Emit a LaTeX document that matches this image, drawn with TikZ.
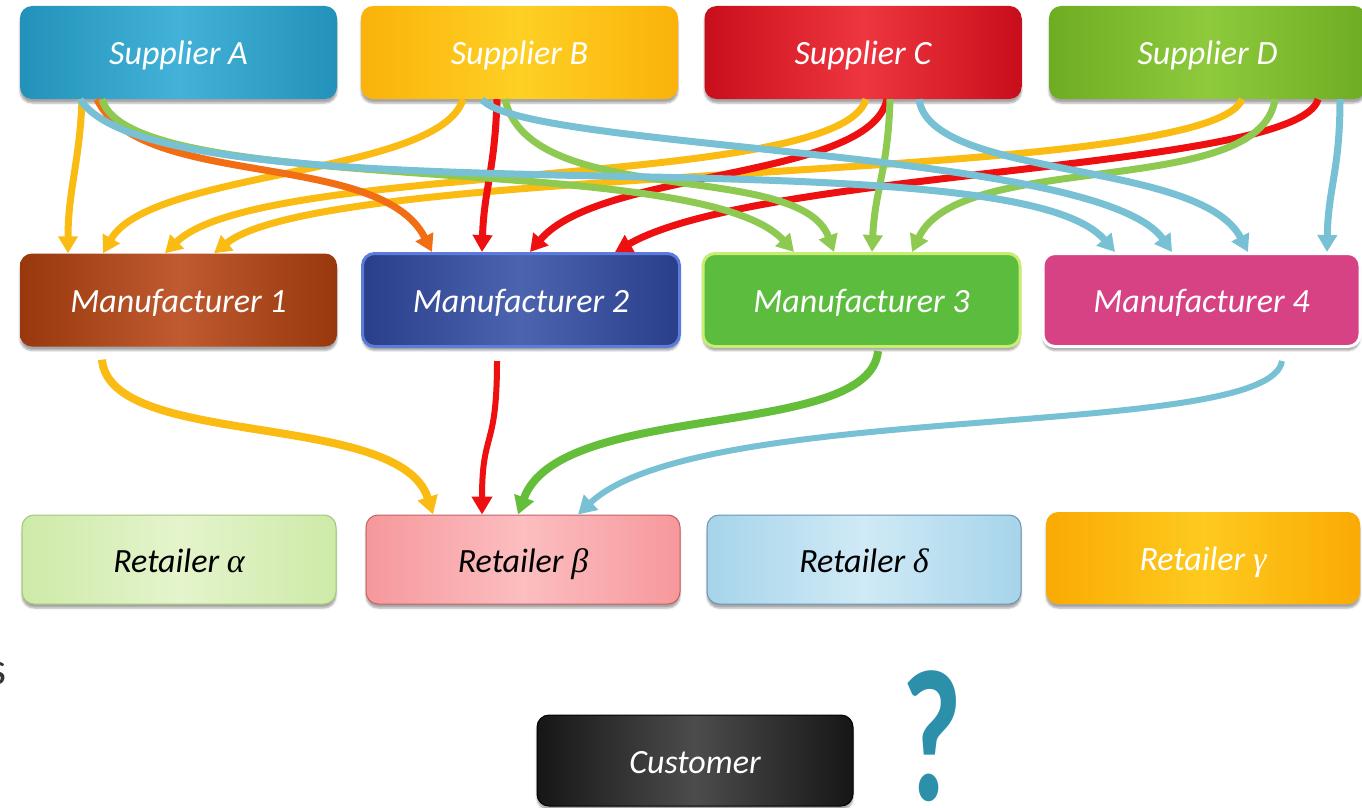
\documentclass[tikz,border=0pt]{standalone}
\usepackage{fontspec}
\setmainfont{Carlito}
\newfontfamily\greekfont{Liberation Serif}
\usetikzlibrary{arrows.meta,shadows.blur}

% box fills
\definecolor{supA}{RGB}{34,146,186}
\definecolor{supAm}{RGB}{66,178,216}
\definecolor{supB}{RGB}{251,178,10}
\definecolor{supBm}{RGB}{254,208,36}
\definecolor{supC}{RGB}{200,14,26}
\definecolor{supCm}{RGB}{238,54,64}
\definecolor{supD}{RGB}{110,172,34}
\definecolor{supDm}{RGB}{142,202,60}
\definecolor{manA}{RGB}{152,56,12}
\definecolor{manAm}{RGB}{192,90,48}
\definecolor{manB}{RGB}{42,62,138}
\definecolor{manBm}{RGB}{76,100,176}
\definecolor{manBd}{RGB}{92,124,220}
\definecolor{manC}{RGB}{92,188,62}
\definecolor{manCd}{RGB}{200,236,116}
\definecolor{manD}{RGB}{214,66,132}
\definecolor{retA}{RGB}{206,234,168}
\definecolor{retAm}{RGB}{228,244,204}
\definecolor{retAd}{RGB}{160,200,120}
\definecolor{retB}{RGB}{246,152,156}
\definecolor{retBm}{RGB}{252,190,192}
\definecolor{retBd}{RGB}{196,96,100}
\definecolor{retC}{RGB}{166,212,234}
\definecolor{retCm}{RGB}{208,234,246}
\definecolor{retCd}{RGB}{104,150,180}
\definecolor{retD}{RGB}{250,170,4}
\definecolor{retDm}{RGB}{254,202,30}
\definecolor{cust}{RGB}{22,22,22}
\definecolor{custm}{RGB}{76,76,76}
\definecolor{quest}{RGB}{44,144,171}
\definecolor{sgray}{RGB}{52,52,52}
% arrow colours
\definecolor{aY}{RGB}{250,188,18}
\definecolor{aO}{RGB}{242,110,20}
\definecolor{aR}{RGB}{238,16,16}
\definecolor{aG}{RGB}{142,202,82}
\definecolor{aGd}{RGB}{100,190,58}
\definecolor{aB}{RGB}{120,192,212}

\tikzset{
  box/.style={rounded corners=12pt, minimum width=317pt, minimum height=93pt,
    inner sep=0pt, text=white, text height=28pt, text depth=3pt,
    font=\fontsize{34}{40}\selectfont\itshape,
    blur shadow={shadow xshift=0pt, shadow yshift=-4pt, shadow opacity=35}},
  hshade/.style 2 args={left color=#1, right color=#1, middle color=#2},
  ar/.style={-{Triangle[length=17pt,width=19pt]}, line width=7pt},
  arlow/.style={-{Triangle[length=18pt,width=20pt]}, line width=#1},
}

\begin{document}
\begin{tikzpicture}[x=1pt,y=-1pt]
\useasboundingbox (0,0) rectangle (1362,808);

% suppliers
\node[box, hshade={supA}{supAm}] (sA) at (178.5,52.5) {Supplier A};
\node[box, hshade={supB}{supBm}] (sB) at (519.5,52.5) {Supplier B};
\node[box, hshade={supC}{supCm}] (sC) at (863,52.5) {Supplier C};
\node[box, hshade={supD}{supDm}] (sD) at (1207.5,52.5) {Supplier D};

% manufacturers
\node[box, hshade={manA}{manAm}] (m1) at (178.5,300) {Manufacturer 1};
\node[box, hshade={manB}{manBm}, draw=manBd, line width=3pt] (m2) at (521,300) {Manufacturer 2};
\node[box, fill=manC, draw=manCd, line width=3pt] (m3) at (861.5,300) {Manufacturer 3};
\node[box, fill=manD, draw=white, line width=3pt] (m4) at (1201.5,300) {Manufacturer 4};

% retailers
\node[box, minimum width=314pt, minimum height=89pt, hshade={retA}{retAm}, draw=retAd, line width=1pt, text=black] (rA) at (179,559.5) {Retailer {\greekfont α}};
\node[box, minimum width=314pt, minimum height=89pt, hshade={retB}{retBm}, draw=retBd, line width=1pt, text=black] (rB) at (523,559.5) {Retailer {\greekfont β}};
\node[box, minimum width=314pt, minimum height=89pt, hshade={retC}{retCm}, draw=retCd, line width=1pt, text=black] (rC) at (864,559.5) {Retailer {\greekfont δ}};
\node[box, minimum width=314pt, minimum height=92pt, hshade={retD}{retDm}] (rD) at (1203,558) {Retailer {\greekfont γ}};

% customer
\node[box, minimum width=316pt, minimum height=91pt, hshade={cust}{custm}, draw=black, line width=1pt] (cu) at (695,760.5) {Customer};
\node[text=quest, font=\fontsize{188}{188}\selectfont\bfseries, xscale=0.7, inner sep=0pt] (qm) at (932,736) {?};
\node[text=sgray, font=\fontsize{46}{46}\selectfont, inner sep=0pt] (sl) at (-3,674) {s};

% supplier -> manufacturer 1
\draw[ar, aY] ([xshift=-96.5pt]sA.south) .. controls +(-2,61) and +(0,-63) .. ([xshift=-110.5pt]m1.north);
\draw[ar, aY] ([xshift=-56.5pt]sB.south) .. controls +(-23,76) and +(47,-83) .. ([xshift=-75.5pt]m1.north);
\draw[ar, aY] ([xshift=3pt]sC.south) .. controls +(-26,91) and +(95,-93) .. ([xshift=-13.5pt]m1.north);
\draw[ar, aY] ([xshift=34.5pt]sD.south) .. controls +(-32,86) and +(116,-93) .. ([xshift=35.5pt]m1.north);

% supplier -> manufacturer 2
\draw[ar, aO] ([xshift=-81.5pt]sA.south) .. controls +(43,91) and +(-52,-103) .. ([xshift=-89pt]m2.north);
\draw[ar, aR] ([xshift=-22.5pt]sB.south) .. controls +(-2,71) and +(2,-63) .. ([xshift=-39pt]m2.north);
\draw[ar, aR] ([xshift=24pt]sC.south) .. controls +(-17,81) and +(70,-83) .. ([xshift=9pt]m2.north);
\draw[ar, aR] ([xshift=110.5pt]sD.south) .. controls +(-18,71) and +(145,-83) .. ([xshift=94pt]m2.north);

% supplier -> manufacturer 3
\draw[ar, aG] ([xshift=-76.5pt]sA.south) .. controls +(28,101) and +(-94,-103) .. ([xshift=-67.5pt]m3.north);
\draw[ar, aG] ([xshift=-14.5pt]sB.south) .. controls +(25,111) and +(-34,-93) .. ([xshift=-27.5pt]m3.north);
\draw[ar, aG] ([xshift=27pt]sC.south) .. controls +(-2,71) and +(3,-63) .. ([xshift=10.5pt]m3.north);
\draw[ar, aG] ([xshift=67.5pt]sD.south) .. controls +(-15,101) and +(48,-103) .. ([xshift=50.5pt]m3.north);

% supplier -> manufacturer 4
\draw[ar, aB] ([xshift=-98.5pt]sA.south) .. controls +(45,71) and (420,172) .. (650,177)
  .. controls (900,182) and +(-50,-58) .. ([xshift=-86.5pt]m4.north);
\draw[ar, aB] ([xshift=-37.5pt]sB.south) .. controls +(38,51) and +(-72,-103) .. ([xshift=-29.5pt]m4.north);
\draw[ar, aB] ([xshift=56pt]sC.south) .. controls +(11,81) and +(-48,-93) .. ([xshift=46.5pt]m4.north);
\draw[ar, aB] ([xshift=132.5pt]sD.south) .. controls +(0,71) and +(1,-63) .. ([xshift=125.5pt]m4.north);

% manufacturers -> retailer beta
\draw[arlow=8pt, aY] ([xshift=-76.5pt,yshift=-13pt]m1.south) .. controls +(8,90) and +(-33,-105) .. ([xshift=-90pt]rB.north);
\draw[arlow=6pt, aR] ([xshift=-24pt,yshift=-13pt]m2.south) .. controls +(0,90) and +(0,-85) .. ([xshift=-41pt]rB.north);
\draw[arlow=8pt, aGd] ([xshift=16.5pt,yshift=-3pt]m3.south) .. controls +(-8,90) and +(42,-115) .. ([xshift=-5pt]rB.north);
\draw[arlow=6pt, aB] ([xshift=80.5pt,yshift=-13pt]m4.south) .. controls +(-12,80) and +(122,-115) .. ([xshift=55pt]rB.north);
\end{tikzpicture}
\end{document}
